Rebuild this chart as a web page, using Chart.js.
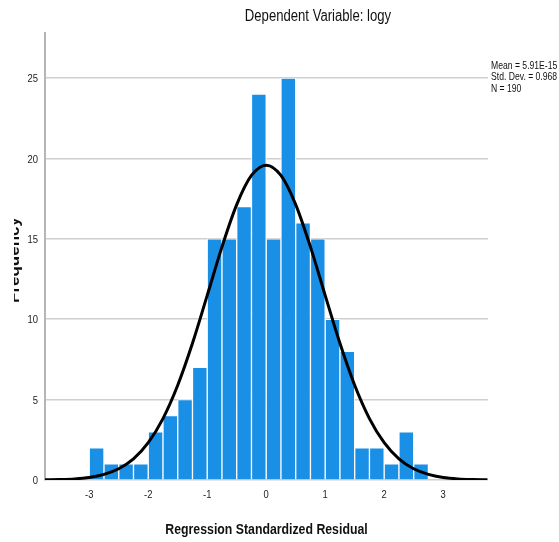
<!DOCTYPE html>
<html>
<head>
<meta charset="utf-8">
<script src="https://cdn.jsdelivr.net/npm/chart.js@4/dist/chart.umd.min.js"></script>
<style>
  html, body { margin: 0; padding: 0; background: #fff; }
  canvas { display: block; }
</style>
</head>
<body>
<canvas id="histChart" width="559" height="542"></canvas>
<script>
// histogram of regression standardized residuals (bin width 0.25)
const binCenters = [-2.875, -2.625, -2.375, -2.125, -1.875, -1.625, -1.375, -1.125,
    -0.875, -0.625, -0.375, -0.125, 0.125, 0.375, 0.625, 0.875,
    1.125, 1.375, 1.625, 1.875, 2.125, 2.375, 2.625];
const binCounts = [2, 1, 1, 1, 3, 4, 5, 7,
    15, 15, 17, 24, 15, 25, 16, 15,
    10, 8, 2, 2, 1, 3, 1];

// normal curve
const curveX = [-3.75, -3.5, -3.25, -3, -2.75, -2.5, -2.25, -2, -1.75, -1.5, -1.25, -1, -0.75, -0.5, -0.25,
    0, 0.25, 0.5, 0.75, 1, 1.25, 1.5, 1.75, 2, 2.25, 2.5, 2.75, 3, 3.25, 3.5, 3.75];
const curveY = [0.01, 0.03, 0.07, 0.16, 0.35, 0.7, 1.31, 2.32, 3.82, 5.89, 8.5, 11.48, 14.5, 17.13, 18.94,
    19.58, 18.94, 17.13, 14.5, 11.48, 8.5, 5.89, 3.82, 2.32, 1.31, 0.7, 0.35, 0.16, 0.07, 0.03, 0.01];

const xTicks = [-3, -2, -1, 0, 1, 2, 3];
const yTicks = [0, 5, 10, 15, 20, 25];

const chartTitle = 'Dependent Variable: logy';
const xTitle = 'Regression Standardized Residual';
const yTitle = 'Frequency';
const statsLines = ['Mean = 5.91E-15', 'Std. Dev. = 0.968', 'N = 190'];

// no narrow face installed, so squeeze Liberation Sans like Arial Narrow
const fam = "'Liberation Sans', Arial, sans-serif";
const squeeze = 0.82;

function narrowText(ctx, text, x, y, font, align) {
    ctx.save();
    ctx.font = font;
    ctx.textAlign = align;
    ctx.textBaseline = 'middle';
    ctx.translate(x, y);
    ctx.scale(squeeze, 1);
    ctx.fillText(text, 0, 0);
    ctx.restore();
}

const textPlugin = {
    id: 'spssText',
    afterDraw(chart) {
        const ctx = chart.ctx;
        const xs = chart.scales.x;
        const ys = chart.scales.y;
        ctx.save();
        ctx.fillStyle = '#222';
        xTicks.forEach(v => narrowText(ctx, String(v), xs.getPixelForValue(v), 495, '11.5px ' + fam, 'center'));
        yTicks.forEach(v => narrowText(ctx, String(v), 38, ys.getPixelForValue(v) + 1, '11.5px ' + fam, 'right'));

        ctx.fillStyle = '#111';
        narrowText(ctx, chartTitle, 318, 17, '16px ' + fam, 'center');
        statsLines.forEach((line, i) => narrowText(ctx, line, 491, 66 + i * 11.5, '10.5px ' + fam, 'left'));

        narrowText(ctx, xTitle, (chart.chartArea.left + chart.chartArea.right) / 2, 530, 'bold 15px ' + fam, 'center');

        // y axis title, cut off at the left like the original
        ctx.beginPath();
        ctx.rect(14, 0, 40, 542);
        ctx.clip();
        ctx.translate(19, 260);
        ctx.rotate(-Math.PI / 2);
        ctx.font = 'bold 17px ' + fam;
        ctx.textAlign = 'center';
        ctx.textBaseline = 'alphabetic';
        ctx.fillText(yTitle, 0, 0);
        ctx.restore();
    }
};

const ctx = document.getElementById('histChart').getContext('2d');
const histChart = new Chart(ctx, {
    type: 'bar',
    data: {
        datasets: [
            {
                type: 'line',
                data: curveX.map((x, i) => ({ x, y: curveY[i] })),
                borderColor: '#000',
                borderWidth: 3,
                pointRadius: 0,
                cubicInterpolationMode: 'monotone',
                fill: false
            },
            {
                type: 'bar',
                data: binCenters.map((x, i) => ({ x, y: binCounts[i] })),
                backgroundColor: '#1a8fe6',
                borderColor: 'rgba(255,255,255,0.85)',
                borderWidth: 1,
                barPercentage: 1,
                categoryPercentage: 1
            }
        ]
    },
    options: {
        responsive: false,
        animation: false,
        layout: { padding: { left: 0, right: 71, top: 33, bottom: 0 } },
        plugins: {
            legend: { display: false },
            tooltip: { enabled: false }
        },
        scales: {
            x: {
                type: 'linear',
                offset: false,
                min: -3.75,
                max: 3.76,
                afterBuildTicks: scale => { scale.ticks = xTicks.map(v => ({ value: v })); },
                afterFit: scale => { scale.height = 62; },
                grid: { display: false },
                border: { display: false },
                ticks: { display: false }
            },
            y: {
                min: 0,
                max: 27.8,
                afterBuildTicks: scale => { scale.ticks = yTicks.map(v => ({ value: v })); },
                afterFit: scale => { scale.width = 45; },
                grid: { color: '#cfcfcf', lineWidth: 1.5, drawTicks: false },
                border: { color: '#b5b5b5', width: 2 },
                ticks: { display: false }
            }
        }
    },
    plugins: [textPlugin]
});
</script>
</body>
</html>
